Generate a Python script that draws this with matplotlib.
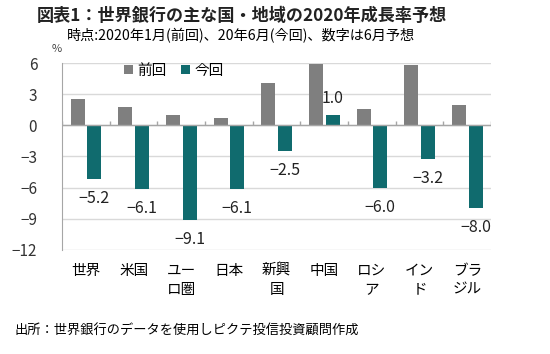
import numpy as np
import matplotlib
matplotlib.use('Agg')
import matplotlib.pyplot as plt

plt.rcParams['font.family'] = ['Noto Sans CJK JP', 'DejaVu Sans']
plt.rcParams['axes.unicode_minus'] = True

CATS = ['世界', '米国', 'ユー\nロ圏', '日本', '新興\n国', '中国', 'ロシ\nア', 'イン\nド', 'ブラ\nジル']
PREV = [2.5, 1.8, 1.0, 0.7, 4.1, 5.9, 1.6, 5.8, 2.0]
CURR = [-5.2, -6.1, -9.1, -6.1, -2.5, 1.0, -6.0, -3.2, -8.0]
YTICKS = [6, 3, 0, -3, -6, -9, -12]

GRAY = '#7f7f7f'
TEAL = '#106b6e'

fig = plt.figure(figsize=(5.5, 3.54), dpi=100)
fig.patch.set_facecolor('white')
ax = fig.add_axes([0.113, 0.294, 0.78, 0.528])

x = np.arange(len(CATS))
w = 0.29
ax.bar(x - 0.175, PREV, w, color=GRAY, label='前回', zorder=3)
ax.bar(x + 0.175, CURR, w, color=TEAL, label='今回', zorder=3)

for xi, v in zip(x, CURR):
    off = 6 if v > 0 else -8
    ax.annotate(f'{v:.1f}'.replace('-', '−'), (xi + 0.175, v),
                xytext=(0, off), textcoords='offset points',
                ha='center', va='bottom' if v > 0 else 'top', fontsize=11.5,
                color='#222222')

ax.set_xlim(-0.5, len(CATS) - 0.5)
ax.set_ylim(-12, 6)
ax.set_yticks(YTICKS)
ax.set_yticklabels([str(t).replace('-', '−') for t in YTICKS], fontsize=11,
                   color='#333333')
ax.set_xticks(x)
ax.set_xticklabels(CATS, fontsize=10.5, va='top', linespacing=1.45)
ax.tick_params(axis='x', length=0, pad=10)
ax.tick_params(axis='y', length=0, pad=18)

ax.grid(axis='y', color='#d9d9d9', lw=1, zorder=0)
for s in ['top', 'right', 'bottom']:
    ax.spines[s].set_visible(False)
ax.spines['left'].set_color('#a6a6a6')
ax.axhline(0, color='#a6a6a6', lw=1, zorder=4)
ax.vlines(np.arange(len(CATS) + 1) - 0.5, 0, 0.4, color='#a6a6a6', lw=1, zorder=4)

ax.legend(loc='center', bbox_to_anchor=(174 / 550, 1 - 71 / 354),
          bbox_transform=fig.transFigure, ncol=2, frameon=False, fontsize=10.5,
          handlelength=0.6, handleheight=0.6, handletextpad=0.3, columnspacing=1.0)

fig.text(37 / 550, 1 - 16 / 354, '図表1：世界銀行の主な国・地域の2020年成長率予想',
         fontsize=12.3, fontweight='bold', va='center', color='#222222')
fig.text(67 / 550, 1 - 36 / 354, '時点:2020年1月(前回)、20年6月(今回)、数字は6月予想',
         fontsize=10.2, va='center')
fig.text(52 / 550, 1 - 49 / 354, '%', fontsize=8, va='center', color='#444444')
fig.text(15 / 550, 1 - 331 / 354, '出所：世界銀行のデータを使用しピクテ投信投資顧問作成',
         fontsize=9.5, va='center')

plt.savefig('out.png', dpi=100)
